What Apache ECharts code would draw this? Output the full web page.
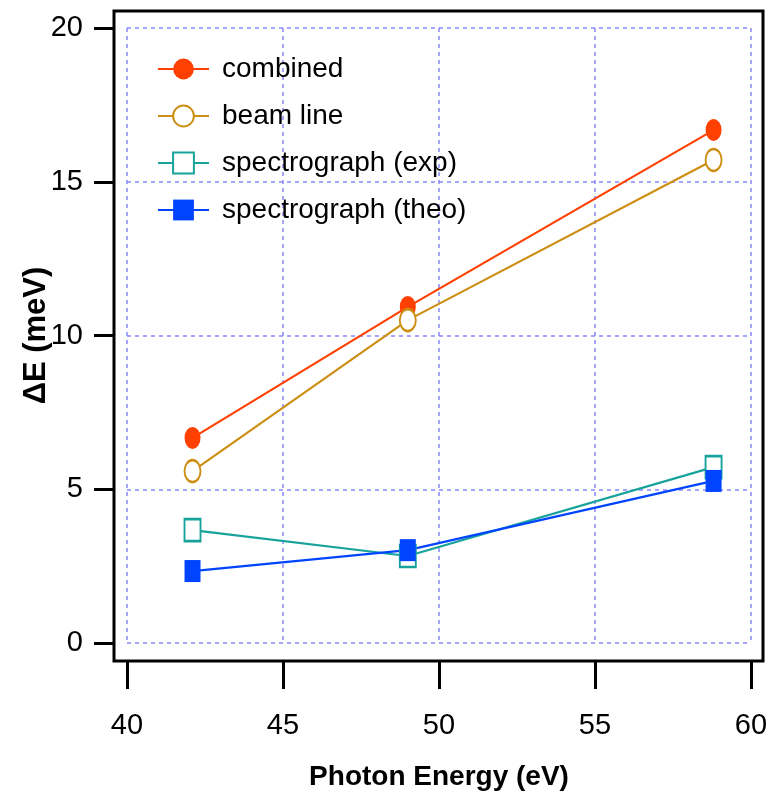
<!DOCTYPE html>
<html><head><meta charset="utf-8">
<script src="https://cdn.jsdelivr.net/npm/echarts@6/dist/echarts.min.js"></script>
<style>html,body{margin:0;padding:0;background:#fff}#c{width:775px;height:801px}</style>
</head><body><div id="c"></div>
<script>
const photonEnergy = [42.1, 49.0, 58.8];
const combined = [6.67, 10.93, 16.68];
const beamLine = [5.59, 10.50, 15.71];
const specExp = [3.67, 2.83, 5.72];
const specTheo = [2.34, 3.02, 5.27];
const seriesNames = ['combined', 'beam line', 'spectrograph (exp)', 'spectrograph (theo)'];
const xTicks = [40, 45, 50, 55, 60];
const yTicks = [0, 5, 10, 15, 20];

const FONT = '"Liberation Sans",Arial,sans-serif';
const pairs = arr => photonEnergy.map((x, i) => [x, arr[i]]);
const gridLine = { show: true, lineStyle: { color: '#8888ff', type: [4, 4], width: 1.5 } };

const chart = echarts.init(document.getElementById('c'), null, { renderer: 'canvas' });
function mk(name, data, color, symbol, filled) {
  return {
    name, type: 'line', xAxisIndex: 0, yAxisIndex: 0, data: pairs(data),
    symbol, symbolSize: [16, 22],
    lineStyle: { color, width: 2.2 },
    itemStyle: { color: filled ? color : '#fff', borderColor: color, borderWidth: filled ? 0 : 2.2 },
    emphasis: { disabled: true }, animation: false
  };
}
chart.setOption({
  animation: false,
  grid: [
    { left: 114, top: 11, right: 12, bottom: 140, show: true, borderColor: '#000', borderWidth: 3, backgroundColor: 'transparent' },
    { left: 127, top: 28, right: 24, bottom: 158, show: false }
  ],
  xAxis: [{
    gridIndex: 1, type: 'value', min: xTicks[0], max: xTicks[xTicks.length - 1], interval: 5, offset: 18,
    axisLine: { show: false, onZero: false },
    axisTick: { show: true, length: 28, lineStyle: { color: '#000', width: 3 } },
    axisLabel: { fontFamily: FONT, fontSize: 29, color: '#000', margin: 50 },
    splitLine: gridLine,
    name: 'Photon Energy (eV)', nameLocation: 'middle', nameGap: 102, nameMoveOverlap: false,
    nameTextStyle: { fontFamily: FONT, fontSize: 28, fontWeight: 'bold', color: '#000' }
  }],
  yAxis: [{
    gridIndex: 1, type: 'value', min: yTicks[0], max: yTicks[yTicks.length - 1], interval: 5, offset: 13,
    axisLine: { show: false, onZero: false },
    axisTick: { show: true, length: 20, lineStyle: { color: '#000', width: 3 } },
    axisLabel: { fontFamily: FONT, fontSize: 29, color: '#000', margin: 31 },
    splitLine: gridLine,
    name: 'ΔE (meV)', nameLocation: 'middle', nameGap: 62, nameMoveOverlap: false,
    nameTextStyle: { fontFamily: FONT, fontSize: 31, fontWeight: 'bold', color: '#000' }
  }],
  legend: {
    left: 157, top: 53, orient: 'vertical', itemWidth: 51, itemHeight: 26, itemGap: 15, padding: 0,
    data: seriesNames,
    textStyle: { fontFamily: FONT, fontSize: 28, color: '#000', lineHeight: 32, padding: [0, 0, 0, 8] },
    selectedMode: false
  },
  series: [
    mk(seriesNames[0], combined, '#ff4000', 'circle', true),
    mk(seriesNames[1], beamLine, '#cc8f14', 'circle', false),
    mk(seriesNames[2], specExp, '#17a39b', 'rect', false),
    mk(seriesNames[3], specTheo, '#0044ff', 'rect', true)
  ]
});
</script></body></html>
